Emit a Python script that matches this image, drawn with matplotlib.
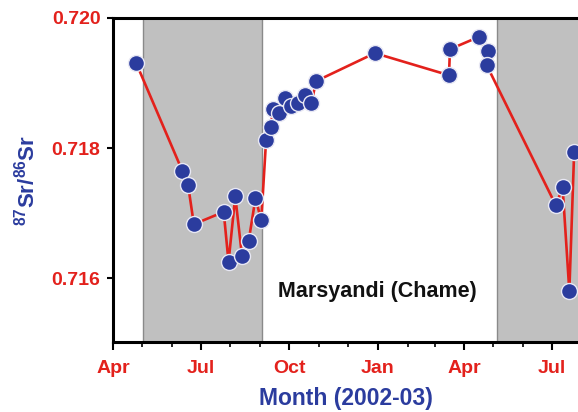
import matplotlib
matplotlib.use("Agg")
import matplotlib.pyplot as plt
import matplotlib.dates as mdates
import numpy as np
import datetime as dt

plt.rcParams['font.family'] = ['Liberation Sans', 'DejaVu Sans']
plt.rcParams['mathtext.fontset'] = 'custom'
plt.rcParams['mathtext.bf'] = 'Liberation Sans:bold'
plt.rcParams['mathtext.rm'] = 'Liberation Sans'

# Data
dates = ["2002-04-25", "2002-06-12", "2002-06-18", "2002-06-24", "2002-07-25",
         "2002-07-30", "2002-08-06", "2002-08-13", "2002-08-20", "2002-08-27",
         "2002-09-02", "2002-09-07", "2002-09-12", "2002-09-14", "2002-09-20",
         "2002-09-27", "2002-10-03", "2002-10-10", "2002-10-17", "2002-10-24",
         "2002-10-29", "2002-12-29", "2003-03-16", "2003-03-17", "2003-04-16",
         "2003-04-25", "2003-04-24", "2003-07-05", "2003-07-12", "2003-07-19",
         "2003-07-24"]
sr_ratio = [0.71931, 0.71765, 0.71743, 0.71683, 0.71702,
            0.71625, 0.71726, 0.71634, 0.71658, 0.71723,
            0.71689, 0.71812, 0.71832, 0.71860, 0.71854,
            0.71877, 0.71865, 0.71869, 0.71882, 0.71869,
            0.71903, 0.71946, 0.71912, 0.71952, 0.71971,
            0.71949, 0.71928, 0.71712, 0.71740, 0.71580,
            0.71794]
monsoon_periods = [("2002-05-02", "2002-09-03"), ("2003-05-05", "2003-09-30")]
y_ticks = [0.716, 0.718, 0.720]
y_ticklabels = ["0.716", "0.718", "0.720"]
label_text = "Marsyandi (Chame)"

red = "#e3211c"
blue = "#2b3c9e"

x = [dt.datetime.strptime(d, "%Y-%m-%d") for d in dates]

fig = plt.figure(figsize=(5.78, 4.12), dpi=100)
ax = fig.add_axes([113/578, 1 - 342/412, 1 - 113/578, (342 - 18)/412])

for s, e in monsoon_periods:
    ax.axvspan(dt.datetime.strptime(s, "%Y-%m-%d"), dt.datetime.strptime(e, "%Y-%m-%d"),
               facecolor="#c0c0c0", edgecolor="#8a8a8a", linewidth=1.0, zorder=0)

ax.plot(x, sr_ratio, color=red, linewidth=1.9, zorder=2)
ax.plot(x, sr_ratio, linestyle="none", marker="o", markersize=11.5,
        markerfacecolor=blue, markeredgecolor="#e8e8f4", markeredgewidth=1.0, zorder=3)

ax.set_xlim(dt.datetime(2002, 4, 1), dt.datetime(2003, 7, 28))
ax.set_ylim(0.71502, 0.720)

ax.xaxis.set_major_locator(mdates.MonthLocator(bymonth=[1, 4, 7, 10]))
ax.xaxis.set_major_formatter(mdates.DateFormatter("%b"))
ax.xaxis.set_minor_locator(mdates.MonthLocator())
ax.set_yticks(y_ticks)
ax.set_yticklabels(y_ticklabels)

for sp in ["left", "top", "bottom"]:
    ax.spines[sp].set_linewidth(2.2)
    ax.spines[sp].set_color("black")
ax.spines["right"].set_visible(False)

ax.tick_params(axis="x", which="major", length=6, width=1.5, pad=7,
               labelsize=14, labelcolor=red, direction="out")
ax.tick_params(axis="x", which="minor", length=3.5, width=1.2, direction="out")
ax.tick_params(axis="y", which="major", length=4, width=1.5, pad=5,
               labelsize=14, labelcolor=red, direction="out")
for lab in ax.get_xticklabels() + ax.get_yticklabels():
    lab.set_fontweight("bold")

ax.set_xlabel("Month (2002-03)", fontsize=16.5, fontweight="bold", color=blue, labelpad=7)
ax.set_ylabel(r"$\mathbf{^{87}}$Sr/$\mathbf{^{86}}$Sr", fontsize=16, fontweight="bold",
              color=blue, labelpad=9)

ax.text(0.568, 0.157, label_text, transform=ax.transAxes, ha="center", va="center",
        fontsize=15.5, fontweight="bold", color="#111111")

fig.savefig("out.png", dpi=100)
